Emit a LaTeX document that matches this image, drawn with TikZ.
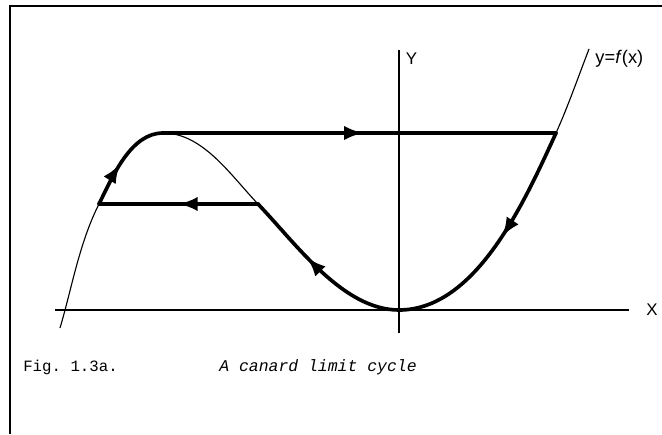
\documentclass[tikz,border=0pt]{standalone}
\usepackage{fontspec}
\setmonofont{Liberation Mono}
\setsansfont{Liberation Sans}
\usepackage{tikz}
\usetikzlibrary{arrows.meta,decorations.markings}
\tikzset{
  frm/.style={line width=1.1pt},
  axis/.style={line width=0.9pt},
  slow/.style={line width=0.8pt},
  cyc/.style={line width=2.6pt,line cap=round,line join=round},
  flowat/.style={postaction={decorate},decoration={markings,
      mark=at position #1 with {\arrow{Latex[length=4.8mm,width=3.6mm]}}}},
  alab/.style={font=\sffamily\large,inner sep=0pt},
  capt/.style={font=\ttfamily\fontsize{11.2}{13}\selectfont,inner sep=0pt,anchor=base west},
}

\begin{document}
\begin{tikzpicture}
  \useasboundingbox (0,0) rectangle (16.55,10.85);
  % frame (left and top only)
  \coordinate (fb) at (0.25,0);
  \coordinate (fc) at (0.25,10.7);
  \coordinate (fr) at (16.55,10.7);
  \draw[frm] (fb) -- (fc) -- (fr);

  % ================= axes =================
  \coordinate (xa) at (1.375,3.1);
  \coordinate (xb) at (15.725,3.1);
  \coordinate (ya) at (9.975,2.525);
  \coordinate (yb) at (9.975,9.6);
  \draw[axis] (xa) -- (xb);
  \draw[axis] (ya) -- (yb);
  \node[alab] (xlab) at (16.3,3.1) {X};
  \node[alab] (ylab) at (10.29,9.375) {Y};

  % ================= points on y=f(x) =================
  \coordinate (L) at (1.5,2.65);
  \coordinate (P) at (2.475,5.75);
  \coordinate (M) at (4.075,7.525);
  \coordinate (Q) at (6.45,5.75);
  \coordinate (N) at (9.975,3.1);
  \coordinate (R) at (13.9,7.525);
  \coordinate (T) at (14.725,9.625);
  \node[font=\sffamily\fontsize{13}{15}\selectfont,inner sep=0pt,anchor=west] (flab) at (14.88,9.375) {y=\textit{f}(x)};

  % thin parts of the curve
  \draw[slow] (L) .. controls (1.80,3.66) and (1.98,4.77) .. (P);
  \draw[slow] (M) .. controls (5.07,7.525) and (5.76,6.475) .. (Q);
  \draw[slow] (R) .. controls (14.19,8.165) and (14.465,8.95) .. (T);

  % ================= limit cycle =================
  \draw[cyc,flowat=0.47] (R) .. controls (13.11,5.80) and (11.9,3.1) .. (N);
  \draw[cyc,flowat=0.6] (N) .. controls (8.575,3.1) and (7.42,4.735) .. (Q);
  \draw[cyc,flowat=0.5] (Q) -- (P);
  \draw[cyc,flowat=0.45] (P) .. controls (2.83,6.47) and (3.28,7.525) .. (M);
  \draw[cyc,flowat=0.51] (M) -- (R);

  % caption
  \node[capt] (fig) at (0.575,1.575) {Fig. 1.3a.};
  \node[capt,font=\ttfamily\itshape\fontsize{11.7}{13}\selectfont] (cap) at (5.475,1.575) {A canard limit cycle};
\end{tikzpicture}
\end{document}
